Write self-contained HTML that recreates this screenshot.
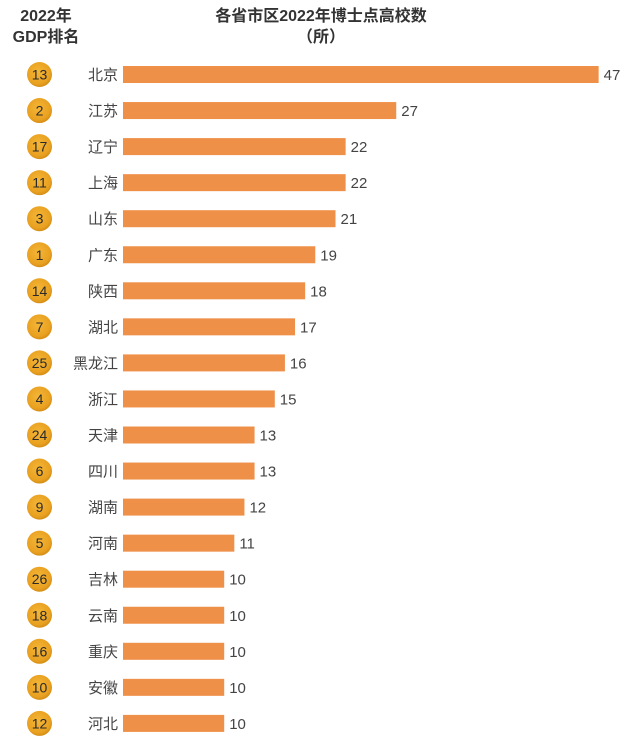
<!DOCTYPE html>
<html><head><meta charset="utf-8"><style>
html,body{margin:0;padding:0;background:#fff;}
svg{display:block;}
text{font-family:"Liberation Sans","Noto Sans CJK SC",sans-serif;}
</style></head><body>
<svg width="640" height="739" viewBox="0 0 640 739" xmlns="http://www.w3.org/2000/svg">
<defs>
<radialGradient id="g" cx="45%" cy="40%" r="60%">
<stop offset="0%" stop-color="#F4B637"/>
<stop offset="80%" stop-color="#E9A020"/>
<stop offset="100%" stop-color="#D48E16"/>
</radialGradient>
</defs>
<text x="46" y="21" text-anchor="middle" font-size="16" font-weight="bold" fill="#333">2022年</text>
<text x="46" y="42" text-anchor="middle" font-size="16" font-weight="bold" fill="#333">GDP排名</text>
<text x="321" y="21" text-anchor="middle" font-size="16" font-weight="bold" fill="#333">各省市区2022年博士点高校数</text>
<text x="321" y="42" text-anchor="middle" font-size="16" font-weight="bold" fill="#333">（所）</text>
<g id="rows"></g>
</svg>
<script>
var d=[["13","北京",47],["2","江苏",27],["17","辽宁",22],["11","上海",22],["3","山东",21],["1","广东",19],["14","陕西",18],["7","湖北",17],["25","黑龙江",16],["4","浙江",15],["24","天津",13],["6","四川",13],["9","湖南",12],["5","河南",11],["26","吉林",10],["18","云南",10],["16","重庆",10],["10","安徽",10],["12","河北",10]];
var g=document.getElementById('rows'),h="";
for(var i=0;i<d.length;i++){
 var cy=74.5+i*36.05,w=d[i][2]*10.12;
 h+='<circle cx="39.5" cy="'+cy+'" r="12.5" fill="url(#g)"/>';
 h+='<text x="39.5" y="'+(cy+5)+'" text-anchor="middle" font-size="14" fill="#2a2a2a">'+d[i][0]+'</text>';
 h+='<text x="118" y="'+(cy+5.5)+'" text-anchor="end" font-size="15" fill="#444">'+d[i][1]+'</text>';
 h+='<rect x="123" y="'+(cy-8.5)+'" width="'+w+'" height="17" fill="#EF9049"/>';
 h+='<text x="'+(123+w+5)+'" y="'+(cy+5.5)+'" font-size="15" fill="#444">'+d[i][2]+'</text>';
}
g.innerHTML=h;
</script>
</body></html>
